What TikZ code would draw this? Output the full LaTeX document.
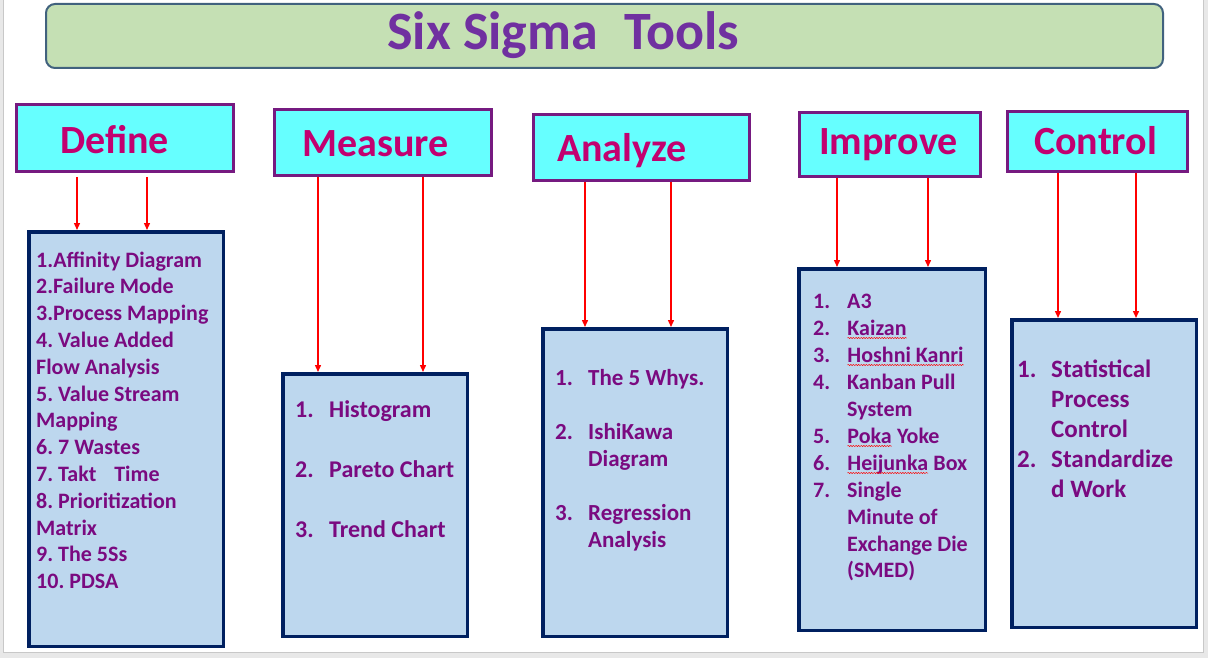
\documentclass[tikz,border=0pt]{standalone}
\usepackage{fontspec}
\setmainfont{Carlito}
\usepackage{array}
\usepackage{tikz}
\usetikzlibrary{arrows.meta,decorations.pathmorphing}
\definecolor{slidegray}{HTML}{E8E8E8}
\definecolor{slideline}{HTML}{C8C8C8}
\definecolor{titlegreen}{HTML}{C5E0B4}
\definecolor{titleline}{HTML}{41627E}
\definecolor{titlepurple}{HTML}{7030A0}
\definecolor{headcyan}{HTML}{66FFFF}
\definecolor{headline}{HTML}{761A80}
\definecolor{headtext}{HTML}{C20070}
\definecolor{listblue}{HTML}{BDD7EE}
\definecolor{listline}{HTML}{002060}
\definecolor{listtext}{HTML}{7A0A80}
\frenchspacing

% red wavy spell-check mark under a word
\newcommand{\spellmark}[1]{\tikz[baseline=(sp.base)]{\node[inner sep=0pt,outer sep=0pt] (sp) {#1};
  \draw[red,line width=0.5pt,decorate,decoration={snake,amplitude=0.6pt,segment length=2.6pt}]
    ([yshift=-3pt]sp.base west) -- ([yshift=-3pt]sp.base east);}}

\tikzset{
    titlebox/.style={
    rectangle,rounded corners=9pt,draw=titleline,fill=titlegreen,line width=2pt
    },
    titletext/.style={
    text=titlepurple,font=\bfseries\fontsize{54}{60}\selectfont,inner sep=0pt,anchor=base west
    },
    phase/.style={
    rectangle,draw=headline,fill=headcyan,line width=3pt
    },
    phasetext/.style={
    text=headtext,font=\bfseries\fontsize{40}{48}\selectfont,inner sep=0pt,anchor=base west
    },
    toolbox/.style={
    rectangle,draw=listline,fill=listblue,line width=3.5pt
    },
  tools/.style={text=listtext,font=\bfseries,inner sep=0pt,anchor=base west},
  arr/.style={draw=red, line width=1.4pt, -{Triangle[length=7pt,width=6pt]}},
}

\begin{document}
\begin{tikzpicture}[x=1pt, y=-1pt]
   \useasboundingbox (0,0) rectangle (1208,658);
   \fill[slidegray] (0,0) rectangle (1208,658);
   \filldraw[fill=white, draw=slideline, line width=1pt] (3,-2) rectangle (1203,652);

   % title bar
   \node[titlebox, minimum width=1117, minimum height=64] (tbox) at (604.5,36) {};
   \node[titletext] (ttl) at (387,50) {Six Sigma\hspace{14pt} Tools};

   % phases
   \node[phase, minimum width=217, minimum height=67] (hdef) at (125,138) {};
   \node[phase, minimum width=217, minimum height=66] (hmea) at (383,142.5) {};
   \node[phase, minimum width=216, minimum height=66] (hana) at (641.5,147.5) {};
   \node[phase, minimum width=181, minimum height=64] (himp) at (890,144.5) {};
   \node[phase, minimum width=180, minimum height=60] (hcon) at (1097.5,141.5) {};

   \node[phasetext] (tdef) at (60,154)   {Define};
   \node[phasetext] (tmea) at (302,157)  {Measure};
   \node[phasetext] (tana) at (557,161)  {Analyze};
   \node[phasetext] (timp) at (819,155)  {Improve};
   \node[phasetext] (tcon) at (1034,155) {Control};

   % tool lists
   \node[toolbox, minimum width=194.5, minimum height=414.5] (ldef) at (126,439) {};
   \node[toolbox, minimum width=184.5, minimum height=262.5] (lmea) at (375,505) {};
   \node[toolbox, minimum width=184.5, minimum height=307.5] (lana) at (635,482.5) {};
   \node[toolbox, minimum width=186.5, minimum height=361.5] (limp) at (892,449.5) {};
   \node[toolbox, minimum width=184.5, minimum height=307.5] (lcon) at (1104,473.5) {};

   \node[tools] (xdef) at (36,267) {\fontsize{22}{26.8}\selectfont
     \begin{tabular}[t]{@{}l@{}}
     1.Affinity Diagram\\
     2.Failure Mode\\
     3.Process Mapping\\
     4. Value Added\\
     Flow Analysis\\
     5. Value Stream\\
     Mapping\\
     6. 7 Wastes\\
     7. Takt\hspace{13pt} Time\\
     8. Prioritization\\
     Matrix\\
     9. The 5Ss\\
     10. PDSA
     \end{tabular}};
   \node[tools] (xmea) at (295,417) {\fontsize{24}{30}\selectfont
     \begin{tabular}[t]{@{}p{34pt}@{}l@{}}
     1. & Histogram\\
        & \\
     2. & Pareto Chart\\
        & \\
     3. & Trend Chart
     \end{tabular}};
   \node[tools] (xana) at (555,385) {\fontsize{23}{27}\selectfont
     \begin{tabular}[t]{@{}p{33pt}@{}l@{}}
     1. & The 5 Whys.\\
        & \\
     2. & IshiKawa\\
        & Diagram\\
        & \\
     3. & Regression\\
        & Analysis
     \end{tabular}};
   \node[tools] (ximp) at (813,308) {\fontsize{22}{27}\selectfont
     \begin{tabular}[t]{@{}p{34pt}@{}l@{}}
     1. & A3\\
     2. & \spellmark{Kaizan}\\
     3. & \spellmark{Hoshni Kanri}\\
     4. & Kanban Pull\\
        & System\\
     5. & \spellmark{Poka} Yoke\\
     6. & \spellmark{Heijunka} Box\\
     7. & Single\\
        & Minute of\\
        & Exchange Die\\
        & (SMED)
     \end{tabular}};
   \node[tools] (xcon) at (1017,377) {\fontsize{25}{30}\selectfont
     \begin{tabular}[t]{@{}p{34pt}@{}l@{}}
     1. & Statistical\\
        & Process\\
        & Control\\
     2. & Standardize\\
        & d Work
     \end{tabular}};

   % arrow starts
   \coordinate (d1) at (77,177);
   \coordinate (d2) at (147,177);
   \coordinate (m1) at (318,177);
   \coordinate (m2) at (423,177);
   \coordinate (a1) at (585,182);
   \coordinate (a2) at (671,182);
   \coordinate (i1) at (837,178);
   \coordinate (i2) at (928,178);
   \coordinate (c1) at (1058,173);
   \coordinate (c2) at (1136,173);

  \path
    (d1) edge[arr] (d1 |- ldef.north)
    (d2) edge[arr] (d2 |- ldef.north)
    (m1) edge[arr] (m1 |- lmea.north)
    (m2) edge[arr] (m2 |- lmea.north)
    (a1) edge[arr] (a1 |- lana.north)
    (a2) edge[arr] (a2 |- lana.north)
    (i1) edge[arr] (i1 |- limp.north)
    (i2) edge[arr] (i2 |- limp.north)
    (c1) edge[arr] (c1 |- lcon.north)
    (c2) edge[arr] (c2 |- lcon.north);
\end{tikzpicture}
\end{document}
